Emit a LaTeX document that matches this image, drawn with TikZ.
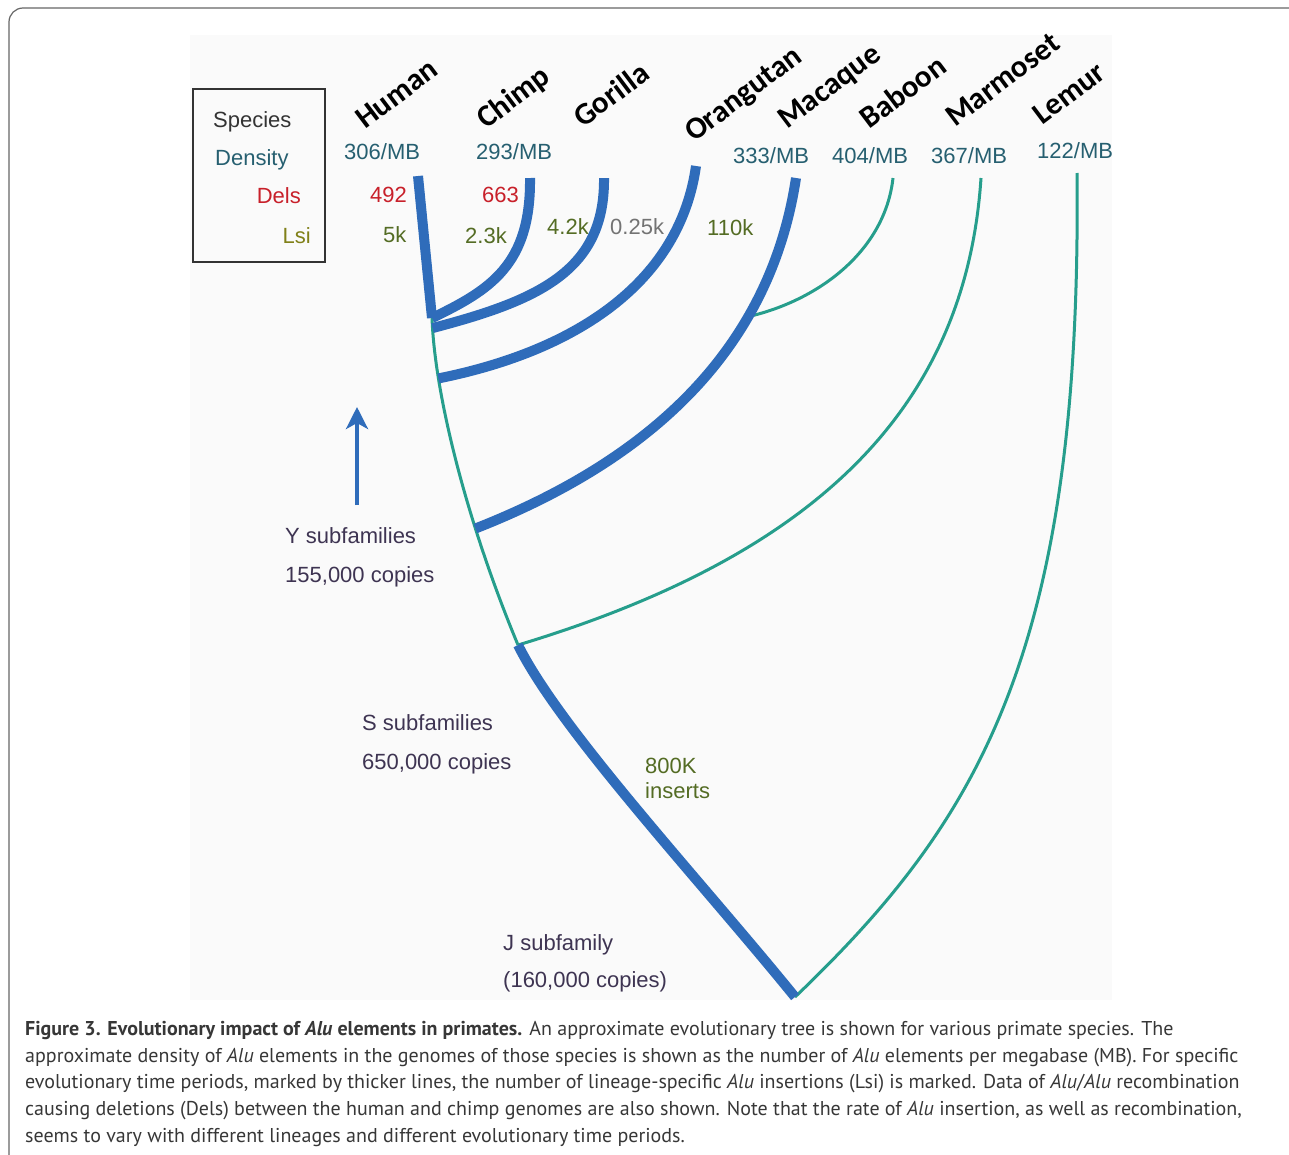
\documentclass[tikz,border=0pt]{standalone}
\usepackage{fontspec}
\setmainfont{Liberation Sans}
\newfontfamily\spfont{Carlito}
\newfontfamily\capfont{PT Sans}
\usepackage{xcolor}
\definecolor{alublue}{RGB}{47,108,186}
\definecolor{aluteal}{RGB}{38,158,140}
\definecolor{densteal}{RGB}{38,95,112}
\definecolor{delsred}{RGB}{200,32,42}
\definecolor{lsiolive}{RGB}{128,128,24}
\definecolor{lsigreen}{RGB}{84,108,36}
\definecolor{subpurple}{RGB}{62,52,82}
\definecolor{capgray}{RGB}{55,55,55}
\usetikzlibrary{arrows.meta,positioning}

\begin{document}
\begin{tikzpicture}[x=1pt, y=-1pt,
    lbl/.style={inner sep=0, font=\fontsize{22}{24}\selectfont, anchor=base west},
    dens/.style={lbl, text=densteal},
    dels/.style={lbl, text=delsred},
    lsi/.style={lbl, text=lsigreen},
    sub/.style={lbl, text=subpurple},
    sp/.style={inner sep=0, anchor=base west, rotate=37,
               font=\spfont\bfseries\fontsize{31}{31}\selectfont},
    thick branch/.style={alublue, line width=10},
    thin branch/.style={aluteal, line width=3},
    capt/.style={inner sep=0, anchor=north west, align=left, text=capgray,
                 font=\capfont\fontsize{20}{26.7}\selectfont}
  ]
    \useasboundingbox (0,0) rectangle (1289,1154);
    % Frame and figure panel
    \draw[black!60, line width=1.2, rounded corners=14] (1289,8) -- (9,8) -- (9,1170);
    \fill[black!2] (190,35) rectangle (1112,1000);

    % Legend
    \node[draw=black!80, line width=2, minimum width=132, minimum height=173,
          inner sep=0] (legend) at (259,175) {};
    \node[lbl, text=black!80] (lgSpecies) at (213,127) {Species};
    \node[dens] (lgDensity) at (215,165) {Density};
    \node[dels, anchor=base east] (lgDels) at (301,203) {Dels};
    \node[lbl, text=lsiolive, anchor=base east] (lgLsi) at (311,243) {Lsi};

    % Species
    \node[sp] (spHuman)     at (365,130) {Human};
    \node[sp] (spChimp)     at (486,130) {Chimp};
    \node[sp] (spGorilla)   at (583,129) {Gorilla};
    \node[sp] (spOrangutan) at (694,143) {Orangutan};
    \node[sp] (spMacaque)   at (787,130) {Macaque};
    \node[sp] (spBaboon)    at (869,130) {Baboon};
    \node[sp] (spMarmoset)  at (955,128) {Marmoset};
    \node[sp] (spLemur)     at (1042,126) {Lemur};

    % Density
    \node[dens] (dHuman)    at (344,159)  {306/MB};
    \node[dens] (dChimp)    at (476,159)  {293/MB};
    \node[dens] (dMacaque)  at (733,163)  {333/MB};
    \node[dens] (dBaboon)   at (832,163)  {404/MB};
    \node[dens] (dMarmoset) at (931,163)  {367/MB};
    \node[dens] (dLemur)    at (1037,158) {122/MB};

    % Dels
    \node[dels] (xHuman) at (370,202) {492};
    \node[dels] (xChimp) at (482,202) {663};

    % Lsi
    \node[lsi] (lHuman)     at (383,242) {5k};
    \node[lsi] (lChimp)     at (465,243) {2.3k};
    \node[lsi] (lGorilla)   at (547,234) {4.2k};
    \node[lbl, text=black!55] (lOrangutan) at (610,234) {0.25k};
    \node[lsi] (lMacaque)   at (707,235) {110k};

    % Branch tips and nodes of the tree
    \coordinate (hum) at (418,176);
    \coordinate (chi) at (530,178);
    \coordinate (gor) at (604,178);
    \coordinate (ora) at (696,166);
    \coordinate (mac) at (796,178);
    \coordinate (bab) at (893,178);
    \coordinate (mar) at (981,178);
    \coordinate (lem) at (1077,173);
    \coordinate (jHC) at (432,318);
    \coordinate (jMar) at (518,645);
    \coordinate (root) at (795,997);

    % Thin branches
    \draw[thin branch] (jHC) .. controls (435,400) and (470,530) .. (jMar)
      coordinate[pos=0.04] (jG) coordinate[pos=0.22] (jO) coordinate[pos=0.67] (jM);
    \path (mac) .. controls (770,350) and (650,460) .. (jM) coordinate[pos=0.3] (jB);
    \draw[thin branch] (bab) .. controls (885,250) and (820,300) .. (jB);
    \draw[thin branch] (mar) .. controls (965,420) and (800,560) .. (jMar);
    \draw[thin branch] (lem) .. controls (1082,650) and (980,820) .. (root);

    % Thick branches
    \draw[thick branch] (hum) -- (jHC);
    \draw[thick branch] (chi) .. controls (531,265) and (490,290) .. (jHC);
    \draw[thick branch] (gor) .. controls (605,270) and (540,300) .. (jG);
    \draw[thick branch] (ora) .. controls (680,280) and (580,350) .. (jO);
    \draw[thick branch] (mac) .. controls (770,350) and (650,460) .. (jM);
    \draw[thick branch] (jMar) .. controls (560,730) and (700,880) .. (root);

    % Subfamilies
    \coordinate (arrFrom) at (357,505);
    \coordinate (arrTo) at (357,407);
    \draw[alublue, line width=4, -{Stealth[length=22, width=22, inset=6]}] (arrFrom) -- (arrTo);
    \node[sub] (yFam)    at (285,543) {Y subfamilies};
    \node[sub] (yCopies) at (285,582) {155,000 copies};
    \node[sub] (sFam)    at (362,730) {S subfamilies};
    \node[sub] (sCopies) at (362,769) {650,000 copies};
    \node[lsi] (ins800)  at (645,773) {800K};
    \node[lsi] (insTxt)  at (645,798) {inserts};
    \node[sub] (jFam)    at (503,950) {J subfamily};
    \node[sub] (jCopies) at (503,987) {(160,000 copies)};

    % Caption
    \node[capt] (caption) at (25,1021)
      {\textbf{Figure 3. Evolutionary impact of \textit{Alu} elements in primates.} An approximate evolutionary tree is shown for various primate species. The\\
       approximate density of \textit{Alu} elements in the genomes of those species is shown as the number of \textit{Alu} elements per megabase (MB). For specific\\
       evolutionary time periods, marked by thicker lines, the number of lineage-specific \textit{Alu} insertions (Lsi) is marked. Data of \textit{Alu}/\textit{Alu} recombination\\
       causing deletions (Dels) between the human and chimp genomes are also shown. Note that the rate of \textit{Alu} insertion, as well as recombination,\\
       seems to vary with different lineages and different evolutionary time periods.};
  \end{tikzpicture}
\end{document}
